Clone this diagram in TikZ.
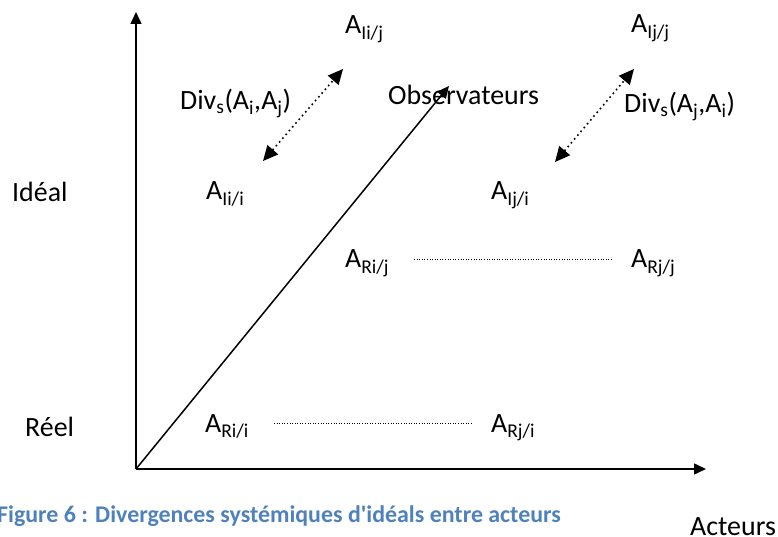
\documentclass[tikz,border=0pt]{standalone}
\usepackage{fontspec}
\setmainfont{Carlito}
\usetikzlibrary{arrows.meta, positioning}
\definecolor{captionblue}{RGB}{79,129,189}

\begin{document}
\begin{tikzpicture}[x=1bp, y=-1bp, font=\fontsize{28}{32}\selectfont,
	every node/.style = {inner sep=0pt, anchor=base west},
	axis/.style = {line width=1.5pt, -{Triangle[length=12bp, width=11bp]}},
	div/.style = {line width=1.6pt, dash pattern=on 1.6pt off 3.4pt, {Triangle[length=15bp, width=14bp]}-{Triangle[length=15bp, width=14bp]}},
	link/.style = {dotted, line width=0.6pt}]
			\useasboundingbox (0,0) rectangle (778,537);

			\coordinate (O) at (136,469);
			\coordinate (ytop) at (136,12);
			\coordinate (xend) at (706,469);
			\coordinate (diag) at (449,86);

			\draw[axis] (O) -- (ytop);
			\draw[axis] (O) -- (xend);
			\draw[axis] (O) -- (diag);

			\node (ideal) at (12,202) {Idéal};
			\node (reel) at (25,436) {Réel};
			\node (acteurs) at (690,535) {Acteurs};
			\node (obs) at (388,105) {Observateurs};

			\node (Iij) at (345,34) {A\textsubscript{Ii/j}};
			\node (Ijj) at (631,33) {A\textsubscript{Ij/j}};
			\node (Iii) at (206,200) {A\textsubscript{Ii/i}};
			\node (Iji) at (491,200) {A\textsubscript{Ij/i}};
			\node (Rij) at (345,268) {A\textsubscript{Ri/j}};
			\node (Rjj) at (631,268) {A\textsubscript{Rj/j}};
			\node (Rii) at (205,432) {A\textsubscript{Ri/i}};
			\node (Rji) at (491,432) {A\textsubscript{Rj/i}};

			\node (divij) at (180,110) {Div\textsubscript{s}(A\textsubscript{i},A\textsubscript{j})};
			\node (divji) at (624,113) {Div\textsubscript{s}(A\textsubscript{j},A\textsubscript{i})};

			\coordinate (d1a) at (263,161);
			\coordinate (d1b) at (343,69);
			\coordinate (d2a) at (555,162);
			\coordinate (d2b) at (634,69);
			\draw[div] (d1a) -- (d1b);
			\draw[div] (d2a) -- (d2b);

			\coordinate (l1a) at (414,259);
			\coordinate (l1b) at (613,259);
			\coordinate (l2a) at (274,423);
			\coordinate (l2b) at (472,423);
			\draw[link] (l1a) -- (l1b);
			\draw[link] (l2a) -- (l2b);

			\node[font=\fontsize{24}{28}\selectfont\bfseries, text=captionblue] (caption) at (-3,522) {Figure 6 : Divergences systémiques d\textquotesingle idéals entre acteurs};
		\end{tikzpicture}
\end{document}
